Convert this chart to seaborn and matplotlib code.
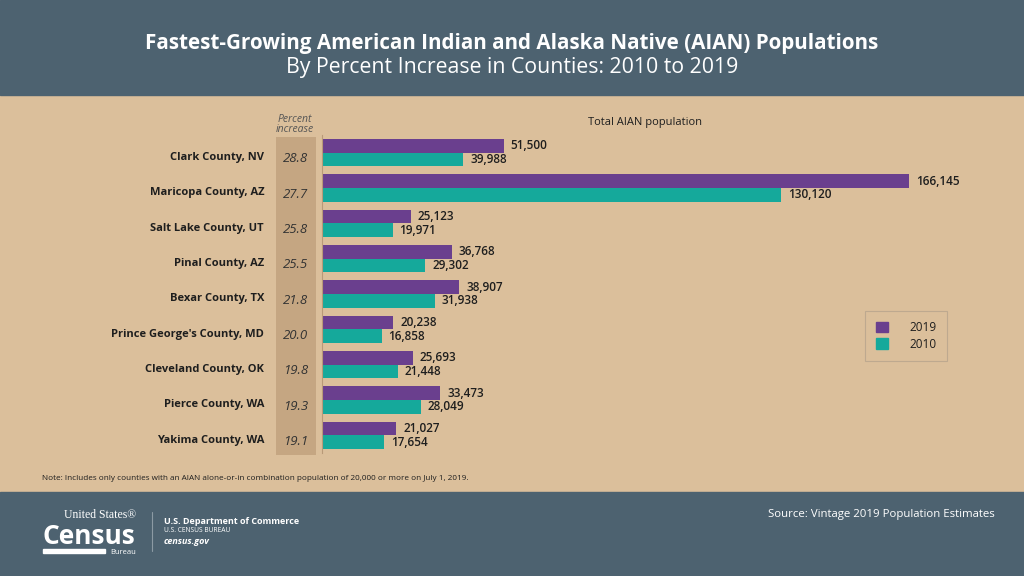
import pandas as pd
import seaborn as sns
import matplotlib
matplotlib.use('Agg')
import matplotlib.pyplot as plt
from matplotlib.patches import Rectangle
from matplotlib.lines import Line2D
from matplotlib.transforms import blended_transform_factory

counties = ['Clark County, NV', 'Maricopa County, AZ', 'Salt Lake County, UT',
            'Pinal County, AZ', 'Bexar County, TX', "Prince George's County, MD",
            'Cleveland County, OK', 'Pierce County, WA', 'Yakima County, WA']
pct_increase = [28.8, 27.7, 25.8, 25.5, 21.8, 20.0, 19.8, 19.3, 19.1]
pop_2019 = [51500, 166145, 25123, 36768, 38907, 20238, 25693, 33473, 21027]
pop_2010 = [39988, 130120, 19971, 29302, 31938, 16858, 21448, 28049, 17654]
years = ['2019', '2010']

HEADER = '#4d6270'
TAN = '#dbbf9b'
BAND = '#c5a682'
PURPLE = '#6a3f8e'
TEAL = '#15a99b'
DARK = '#1e1e1e'

df = pd.DataFrame({
    'county': counties * 2,
    'year': ['2019'] * len(counties) + ['2010'] * len(counties),
    'pop': pop_2019 + pop_2010,
})

sns.set_style('white')
plt.rcParams['font.family'] = ['Open Sans', 'DejaVu Sans']

W, H = 1024, 576
fig = plt.figure(figsize=(10.24, 5.76), dpi=100)
fig.patch.set_facecolor(TAN)


def fx(px):
    return px / W


def fy(py):
    return 1 - py / H


# header and footer bands
fig.add_artist(Rectangle((0, fy(95)), 1, 95 / H, transform=fig.transFigure,
                         color=HEADER, zorder=0))
fig.add_artist(Rectangle((0, 0), 1, (H - 492) / H, transform=fig.transFigure,
                         color=HEADER, zorder=0))

# main bar axes
ax_top, ax_bot = 135, 453
ax = fig.add_axes([fx(322), fy(ax_bot), fx(1000 - 322), (ax_bot - ax_top) / H])
ax.set_facecolor('none')
sns.barplot(data=df, y='county', x='pop', hue='year', hue_order=years,
            order=counties, palette=[PURPLE, TEAL], orient='h',
            width=0.77, gap=0, saturation=1, linewidth=0, ax=ax, legend=False)
ax.set_xlim(0, 192000)
ax.set_ylim(len(counties) - 0.5, -0.5)
ax.set_xlabel('')
ax.set_ylabel('')
ax.set_xticks([])
ax.set_yticks([])
for s in ['top', 'right', 'bottom']:
    ax.spines[s].set_visible(False)
ax.spines['left'].set_color('#b89a78')
ax.spines['left'].set_linewidth(0.8)

for container, vals in zip(ax.containers, [pop_2019, pop_2010]):
    ax.bar_label(container, labels=[f'{v:,}' for v in vals], padding=5,
                 fontsize=8.5, color=DARK, fontweight='semibold')

# percent increase column
pax = fig.add_axes([fx(276), fy(ax_bot + 2), fx(40), (ax_bot - ax_top) / H])
pax.set_facecolor(BAND)
pax.set_xlim(0, 1)
pax.set_ylim(len(counties) - 0.5, -0.5)
pax.set_xticks([])
pax.set_yticks([])
for s in pax.spines.values():
    s.set_visible(False)

name_tf = blended_transform_factory(fig.transFigure, ax.transData)
for i, p in enumerate(pct_increase):
    pax.text(0.5, i + 0.12, f'{p:.1f}', ha='center', va='center',
             fontsize=9.5, style='italic', color='#333333')
    ax.text(fx(264), i + 0.14, counties[i], transform=name_tf,
            ha='right', va='center', fontsize=8, fontweight='bold', color=DARK)

fig.text(fx(295), fy(119), 'Percent', ha='center', va='center', fontsize=7.5,
         style='italic', color='#555555')
fig.text(fx(295), fy(129), 'increase', ha='center', va='center', fontsize=7.5,
         style='italic', color='#555555')
fig.text(fx(645), fy(122), 'Total AIAN population', ha='center', va='center',
         fontsize=8, color=DARK)

# legend
handles = [Rectangle((0, 0), 1, 1, color=PURPLE), Rectangle((0, 0), 1, 1, color=TEAL)]
leg = fig.legend(handles, years, loc='center', bbox_to_anchor=(fx(906), fy(336)),
                 frameon=True, fontsize=8.5, handlelength=1.0, handleheight=1.0,
                 handletextpad=1.8, borderpad=0.9, labelspacing=0.3,
                 fancybox=False, borderaxespad=0)
leg.get_frame().set_facecolor(TAN)
leg.get_frame().set_edgecolor('#b7a48c')
leg.get_frame().set_linewidth(0.8)
for t in leg.get_texts():
    t.set_color(DARK)

# titles
fig.text(0.5, fy(44), 'Fastest-Growing American Indian and Alaska Native (AIAN) Populations',
         ha='center', va='center', fontsize=14.9, fontweight='bold', color='white')
fig.text(0.5, fy(67), 'By Percent Increase in Counties: 2010 to 2019',
         ha='center', va='center', fontsize=15.3, color='white')

fig.text(fx(42), fy(479),
         'Note: Includes only counties with an AIAN alone-or-in combination population of 20,000 or more on July 1, 2019.',
         ha='left', va='center', fontsize=5.9, color=DARK)

# footer
fig.text(fx(995), fy(515), 'Source: Vintage 2019 Population Estimates', ha='right',
         va='center', fontsize=8.2, color='white')
fig.text(fx(100), fy(515), 'United States\u00ae', ha='center', va='center', fontsize=8.5,
         family=['Liberation Serif', 'DejaVu Serif'], color='white')
fig.text(fx(89), fy(537), 'Census', ha='center', va='center', fontsize=19,
         fontweight='bold', color='white')
fig.add_artist(Rectangle((fx(43), fy(553)), fx(62), 4 / H, transform=fig.transFigure,
                         color='white'))
fig.text(fx(123), fy(552), 'Bureau', ha='center', va='center', fontsize=5.5, color='white')
fig.add_artist(Line2D([fx(152), fx(152)], [fy(512), fy(551)], transform=fig.transFigure,
                      color='#8c9aa4', lw=0.8))
fig.text(fx(164), fy(521), 'U.S. Department of Commerce', ha='left', va='center',
         fontsize=6.5, fontweight='bold', color='white')
fig.text(fx(164), fy(531), 'U.S. CENSUS BUREAU', ha='left', va='center',
         fontsize=4.8, color='white')
fig.text(fx(164), fy(541), 'census.gov', ha='left', va='center', fontsize=6.5,
         fontweight='bold', style='italic', color='white')

fig.savefig('out.png', dpi=100, facecolor=fig.get_facecolor())
